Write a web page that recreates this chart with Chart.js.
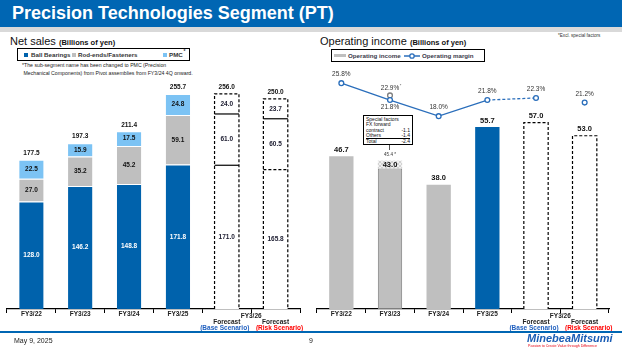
<!DOCTYPE html>
<html><head><meta charset="utf-8">
<script src="https://cdn.jsdelivr.net/npm/chart.js@4/dist/chart.umd.min.js"></script>
<style>
body{margin:0;width:622px;height:350px;position:relative;overflow:hidden;background:#fff;font-family:"Liberation Sans",Arial,sans-serif;color:#111;}
.abs{position:absolute;white-space:nowrap;}
canvas{position:absolute;}
.lg{font-weight:bold;font-size:6.2px;line-height:8px;color:#333;}
.sw{width:4px;height:4px;}
</style>
</head><body>
<div class="abs" style="left:0;top:0;width:622px;height:27px;background:#0066B3"></div>
<div class="abs" style="left:0;top:27px;width:622px;height:5px;background:#D9D9D9"></div>
<div class="abs" style="left:12px;top:0;line-height:27px;font-size:18px;font-weight:bold;color:#fff">Precision Technologies Segment (PT)</div>

<div class="abs" style="left:10px;top:35px;font-size:11px;line-height:13px">Net sales <b style="font-size:7.5px">(Billions of yen)</b></div>
<div class="abs" style="left:17px;top:48px;width:171px;height:11px;border:1.3px solid #000"></div>
<div class="abs sw" style="left:24px;top:52.5px;background:#0062AC"></div><div class="abs lg" style="left:31px;top:50.5px">Ball Bearings</div>
<div class="abs sw" style="left:72px;top:52.5px;background:#BFBFBF"></div><div class="abs lg" style="left:78px;top:50.5px">Rod-ends/Fasteners</div>
<div class="abs sw" style="left:163px;top:52.5px;background:#7CC3F4"></div><div class="abs lg" style="left:169px;top:50.5px">PMC</div>
<div class="abs lg" style="left:183.5px;top:47px;font-size:5px">*</div>
<div class="abs" style="left:22px;top:61px;font-size:5.2px;line-height:8px;color:#222">*The sub-segment name has been changed to PMC (Precision<br>&nbsp;Mechanical Components) from Pivot assemblies from FY3/24 4Q onward.</div>

<div class="abs" style="left:320px;top:35px;font-size:11px;line-height:13px">Operating income <b style="font-size:7.5px">(Billions of yen)</b></div>
<div class="abs" style="left:558px;top:33px;font-size:4.6px;line-height:6px;color:#333">*Excl. special factors</div>
<div class="abs" style="left:331px;top:49px;width:152px;height:11px;border:1.3px solid #000"></div>
<div class="abs" style="left:334px;top:54px;width:12px;height:3px;background:#BFBFBF"></div>
<div class="abs lg" style="left:348px;top:51.5px;color:#3a3a4a">Operating income</div>
<svg class="abs" style="left:404px;top:51.5px" width="16" height="8"><line x1="0" y1="4" x2="16" y2="4" stroke="#2A6EBB" stroke-width="1.5"/><circle cx="8" cy="4" r="2.2" fill="#fff" stroke="#2A6EBB" stroke-width="1.3"/></svg>
<div class="abs lg" style="left:422px;top:51.5px;color:#3a3a4a">Operating margin</div>

<div class="abs" style="left:363px;top:115px;width:50px;height:30px;border:1px solid #000;font-size:5px;line-height:5.3px;padding:1px 2px 0 2px;box-sizing:border-box;color:#111">
<div>Special factors</div>
<div>FX forward</div>
<div style="display:flex;justify-content:space-between"><span>contract</span><span>-1.1</span></div>
<div style="display:flex;justify-content:space-between;border-bottom:0.8px solid #000"><span>Others</span><span>-1.4</span></div>
<div style="display:flex;justify-content:space-between"><span>Total</span><span>-2.4</span></div>
</div>
<div class="abs" style="left:389px;top:145px;width:1px;height:5px;background:#555"></div>

<canvas id="c1" width="310" height="310" style="left:0;top:40px"></canvas>
<canvas id="c2" width="312" height="310" style="left:310px;top:40px"></canvas>

<div class="abs" style="left:0;top:331px;width:622px;height:1.5px;background:#0066B3"></div>
<div class="abs" style="left:14px;top:337px;font-size:7px;line-height:8px;color:#222">May 9, 2025</div>
<div class="abs" style="left:309px;top:337px;font-size:7px;line-height:8px;color:#222">9</div>
<div class="abs" style="left:527px;top:333px;font-size:11px;line-height:11px;font-weight:bold;font-style:italic;color:#1A5DB5">MinebeaMitsumi</div>
<div class="abs" style="left:528px;top:344px;font-size:3.6px;line-height:4px;color:#E60012">Passion to Create Value through Difference</div>

<script>
// ---- data ----
const categories = ["FY3/22","FY3/23","FY3/24","FY3/25","FY3/26 Base","FY3/26 Risk"];
const yearLabels = ["FY3/22","FY3/23","FY3/24","FY3/25"];
const forecastYear = "FY3/26";
const forecastLabels = ["Forecast","Forecast"];
const scenarioLabels = ["(Base Scenario)","(Risk Scenario)"];
const forecastIdx = [4,5];

const ballBearings = [128.0,146.2,148.8,171.8,171.0,165.8];
const rodEnds      = [27.0,35.2,45.2,59.1,61.0,60.5];
const pmc          = [22.5,15.9,17.5,24.8,24.0,23.7];
const salesTotals  = [177.5,197.3,211.4,255.7,256.0,250.0];

const opIncome       = [46.7,43.0,38.0,55.7,57.0,53.0];
const specialFactors = [null,2.4,null,null,null,null];
const opMargin         = [25.8,21.8,18.0,21.8,null,null];
const opMarginForecast = [null,null,null,21.8,22.3,null];
const opMarginRisk     = [null,null,null,null,null,21.2];
const opMarginExcl     = [null,22.9,null,null,null,null];

// ---- styles ----
const FONT = '"Liberation Sans", Arial, sans-serif';
const BLUE='#0062AC', GRAY='#BFBFBF', LIGHT='#7CC3F4', LBLUE='#2A6EBB';
Chart.defaults.font.family = FONT;

const xLabels = {
  id:'xLabels',
  afterDraw(chart){
    const ctx=chart.ctx, xs=chart.scales.x, b=chart.chartArea.bottom;
    ctx.save();
    ctx.textAlign='center'; ctx.textBaseline='middle';
    ctx.font='bold 6.5px '+FONT; ctx.fillStyle='#222';
    yearLabels.forEach((t,i)=>ctx.fillText(t, xs.getPixelForValue(i), b+5.5));
    const x4=xs.getPixelForValue(forecastIdx[0]), x5=xs.getPixelForValue(forecastIdx[1]);
    ctx.fillText(forecastYear,(x4+x5)/2,b+7.5);
    ctx.fillText(forecastLabels[0],x4,b+13.5);
    ctx.fillText(forecastLabels[1],x5,b+13.5);
    ctx.fillStyle='#1F5FBF'; ctx.fillText(scenarioLabels[0],x4-2,b+19.5);
    ctx.fillStyle='#FF0000'; ctx.fillText(scenarioLabels[1],x5+4,b+19.5);
    ctx.restore();
  }
};

function dashedBox(ctx,l,r,top,base){
  ctx.save();
  ctx.lineWidth=1.2; ctx.strokeStyle='#000'; ctx.setLineDash([3,2]);
  ctx.beginPath(); ctx.moveTo(l,base); ctx.lineTo(l,top); ctx.lineTo(r,top); ctx.lineTo(r,base); ctx.stroke();
  ctx.restore();
}
function hLine(ctx,l,r,y,dashed){
  ctx.save(); ctx.lineWidth=1.2; ctx.strokeStyle='#000'; ctx.setLineDash(dashed?[3,2]:[]);
  ctx.beginPath(); ctx.moveTo(l,y); ctx.lineTo(r,y); ctx.stroke(); ctx.restore();
}

const salesLabels = {
  id:'salesLabels',
  afterDatasetsDraw(chart){
    const ctx=chart.ctx;
    const m=[0,1,2].map(d=>chart.getDatasetMeta(d));
    forecastIdx.forEach((i,k)=>{
      const e0=m[0].data[i], e1=m[1].data[i], e2=m[2].data[i];
      const l=e0.x-e0.width/2, r=e0.x+e0.width/2;
      dashedBox(ctx,l,r,e2.y,e0.base);
      hLine(ctx,l,r,e1.y,false);
      hLine(ctx,l,r,e0.y,k===1);
    });
    ctx.save();
    ctx.textAlign='center'; ctx.textBaseline='middle'; ctx.font='bold 6.5px '+FONT;
    const series=[ballBearings,rodEnds,pmc];
    series.forEach((arr,d)=>arr.forEach((v,i)=>{
      const e=m[d].data[i];
      ctx.fillStyle = (d===0 && i<4) ? '#fff' : (i>=4 ? '#1a1a2e' : '#111');
      ctx.fillText(v.toFixed(1), e.x, (e.y+e.base)/2);
    }));
    ctx.fillStyle='#111';
    salesTotals.forEach((v,i)=>{ const e=m[2].data[i]; ctx.fillText(v.toFixed(1), e.x, e.y-6.5); });
    ctx.restore();
  }
};

const actualFill = (c)=>categories.map((_,i)=>forecastIdx.includes(i)?'#fff':c);
const barCommon = {barPercentage:0.5, categoryPercentage:1, borderColor:'#fff', borderWidth:{top:1,right:0,bottom:0,left:0}};

new Chart(document.getElementById('c1'),{
  type:'bar',
  data:{labels:categories, datasets:[
    Object.assign({label:'Ball Bearings', data:ballBearings, backgroundColor:actualFill(BLUE)},barCommon),
    Object.assign({label:'Rod-ends/Fasteners', data:rodEnds, backgroundColor:actualFill(GRAY)},barCommon),
    Object.assign({label:'PMC', data:pmc, backgroundColor:actualFill(LIGHT)},barCommon)
  ]},
  options:{
    responsive:false, animation:false, devicePixelRatio:1,
    layout:{autoPadding:false, padding:{left:7,right:10,top:0,bottom:37}},
    plugins:{legend:{display:false}, tooltip:{enabled:false}},
    scales:{
      x:{stacked:true, offset:true, grid:{display:true, offset:true, drawOnChartArea:false, drawTicks:true, tickLength:4, color:'#000', lineWidth:1}, border:{display:true,color:'#000',width:1.2}, ticks:{display:false}},
      y:{stacked:true, display:false, min:0, max:320}
    }
  },
  plugins:[xLabels, salesLabels]
});

// hatch pattern for special factors
const hatch = (()=>{
  const c=document.createElement('canvas'); c.width=4; c.height=4;
  const g=c.getContext('2d');
  g.fillStyle='#F0F0F0'; g.fillRect(0,0,4,4);
  g.strokeStyle='#C4C4C4'; g.lineWidth=0.7;
  g.beginPath(); g.moveTo(0,0); g.lineTo(4,4); g.moveTo(4,0); g.lineTo(0,4); g.stroke();
  return g.createPattern(c,'repeat');
})();

const incomeLabels = {
  id:'incomeLabels',
  afterDatasetsDraw(chart){
    const ctx=chart.ctx;
    const mb=chart.getDatasetMeta(0), ms=chart.getDatasetMeta(1);
    forecastIdx.forEach(i=>{ const e=mb.data[i]; dashedBox(ctx,e.x-e.width/2,e.x+e.width/2,e.y,e.base); });
    ctx.save();
    ctx.textAlign='center'; ctx.textBaseline='middle';
    ctx.font='bold 7.5px '+FONT; ctx.fillStyle='#111';
    opIncome.forEach((v,i)=>{ const e=mb.data[i]; ctx.fillText(v.toFixed(1), e.x, specialFactors[i]!=null ? e.y-3.5 : e.y-6.5); });
    specialFactors.forEach((v,i)=>{
      if(v==null) return;
      const e=ms.data[i];
      ctx.font='4.5px '+FONT; ctx.fillStyle='#333';
      ctx.fillText((opIncome[i]+v).toFixed(1)+' *', e.x, e.y-5.5);
    });
    // margin labels
    ctx.font='6.5px '+FONT; ctx.fillStyle='#333';
    const put=(d,arr,i,dy)=>{ const e=chart.getDatasetMeta(d).data[i]; ctx.fillText(arr[i].toFixed(1)+'%', e.x, e.y+dy); return e; };
    opMargin.forEach((v,i)=>{ if(v!=null) put(2,opMargin,i, i===1?7:-8.5); });
    put(3,opMarginForecast,4,-8.5);
    put(4,opMarginRisk,5,-8.5);
    const ex=put(5,opMarginExcl,1,-7);
    ctx.font='4px '+FONT; ctx.fillText('*', ex.x+10.5, ex.y-10);
    ctx.restore();
  }
};

const pt = {pointStyle:'circle', pointRadius:2.4, pointBackgroundColor:'#fff', pointBorderWidth:1.3};
new Chart(document.getElementById('c2'),{
  type:'bar',
  data:{labels:categories, datasets:[
    {label:'Operating income', data:opIncome, stack:'a', order:2, barPercentage:0.5, categoryPercentage:1,
     backgroundColor:[GRAY,GRAY,GRAY,BLUE,'#fff','#fff'], borderColor:'#7F7F7F', borderWidth:[0,1,0,0,0,0], borderSkipped:false},
    {label:'Special factors', data:specialFactors, stack:'a', order:2, barPercentage:0.5, categoryPercentage:1,
     backgroundColor:hatch, borderWidth:0},
    Object.assign({type:'line', label:'Operating margin', data:opMargin, yAxisID:'y2', order:1, borderColor:LBLUE, borderWidth:1.3, pointBorderColor:LBLUE},pt),
    Object.assign({type:'line', label:'Operating margin forecast', data:opMarginForecast, yAxisID:'y2', order:1, borderColor:LBLUE, borderWidth:1.3, borderDash:[3,2], pointBorderColor:LBLUE},pt,{pointRadius:[0,0,0,0,2.4,0]}),
    Object.assign({type:'line', label:'Operating margin risk', data:opMarginRisk, yAxisID:'y2', order:1, borderColor:LBLUE, borderWidth:1.3, showLine:false, pointBorderColor:LBLUE},pt),
    Object.assign({type:'line', label:'Operating margin excl. special factors', data:opMarginExcl, yAxisID:'y2', order:1, borderColor:'#7F7F7F', showLine:false, pointBorderColor:'#7F7F7F'},pt)
  ]},
  options:{
    responsive:false, animation:false, devicePixelRatio:1,
    layout:{autoPadding:false, padding:{left:7,right:13,top:0,bottom:37}},
    plugins:{legend:{display:false}, tooltip:{enabled:false}},
    scales:{
      x:{stacked:true, offset:true, grid:{display:true, offset:true, drawOnChartArea:false, drawTicks:true, tickLength:4, color:'#000', lineWidth:1}, border:{display:true,color:'#000',width:1.2}, ticks:{display:false}},
      y:{stacked:true, display:false, min:0, max:82.3},
      y2:{display:false, min:-27.6, max:36}
    }
  },
  plugins:[xLabels, incomeLabels]
});
</script>
</body></html>
